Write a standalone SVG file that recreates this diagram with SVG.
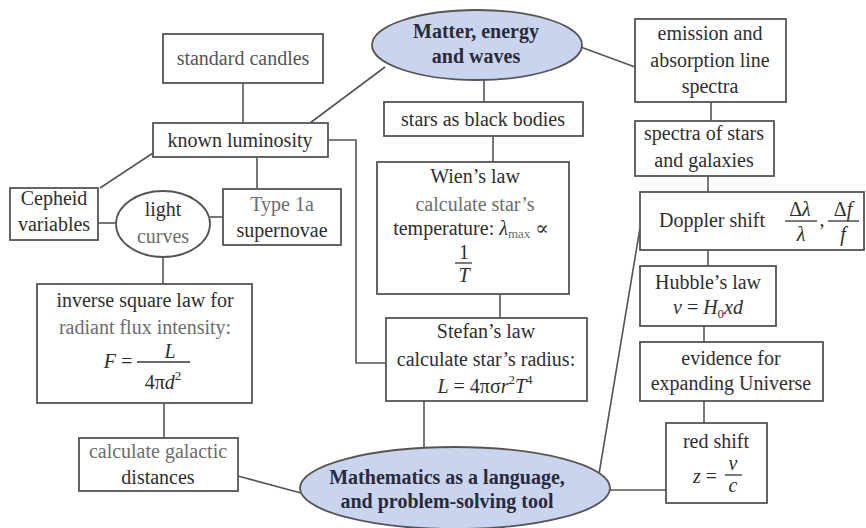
<svg xmlns="http://www.w3.org/2000/svg" width="866" height="528" viewBox="0 0 866 528" font-family="'Liberation Serif', 'Times New Roman', Tinos, 'DejaVu Serif', Times, serif">
<style>
.box{fill:#fff;stroke:#555;stroke-width:1.8}
.ell{fill:#c9d4ee;stroke:#555;stroke-width:1.8}
.ell2{fill:#fff;stroke:#555;stroke-width:1.8}
.ln{fill:none;stroke:#555;stroke-width:1.6}
text{font-size:20px;fill:#2e2e2e;text-anchor:middle}
.b{font-weight:bold;fill:#2a2a3a}
.g{fill:#6c6c6c}
.i{font-style:italic}
.s{font-size:13px}
.frac{stroke:#333;stroke-width:1.3}
</style>
<rect width="866" height="528" fill="#fff"/>
<g id="connectors">
<line class="ln" x1="243" y1="83" x2="243" y2="123"/>
<line class="ln" x1="385" y1="67" x2="310" y2="123"/>
<polyline class="ln" points="328,140 356,140 356,363 387,363"/>
<line class="ln" x1="257" y1="157" x2="257" y2="189"/>
<line class="ln" x1="153" y1="153" x2="100" y2="188"/>
<line class="ln" x1="98" y1="223" x2="117" y2="223"/>
<line class="ln" x1="210" y1="217" x2="223" y2="217"/>
<line class="ln" x1="163" y1="257" x2="163" y2="284"/>
<line class="ln" x1="164" y1="403" x2="164" y2="438"/>
<line class="ln" x1="238" y1="476" x2="301" y2="493"/>
<line class="ln" x1="484" y1="80" x2="484" y2="102"/>
<line class="ln" x1="493" y1="136" x2="493" y2="162"/>
<line class="ln" x1="500" y1="294" x2="500" y2="318"/>
<line class="ln" x1="424" y1="401" x2="424" y2="448"/>
<line class="ln" x1="578" y1="46" x2="635" y2="67"/>
<line class="ln" x1="711" y1="102" x2="711" y2="121"/>
<line class="ln" x1="708" y1="176" x2="708" y2="192"/>
<line class="ln" x1="708" y1="250" x2="708" y2="266"/>
<line class="ln" x1="704" y1="326" x2="704" y2="342"/>
<line class="ln" x1="704" y1="401" x2="704" y2="423"/>
<line class="ln" x1="608" y1="490" x2="666" y2="490"/>
<line class="ln" x1="599" y1="474" x2="640" y2="228"/>
</g>
<g id="matter">
<ellipse class="ell" cx="477" cy="45" rx="105" ry="35"/>
<text class="b" x="476" y="38">Matter, energy</text>
<text class="b" x="476" y="63">and waves</text>
</g>
<g id="standard-candles">
<rect class="box" x="163" y="34" width="160" height="49"/>
<text x="243" y="65" style="fill:#555">standard candles</text>
</g>
<g id="known-luminosity">
<rect class="box" x="153" y="123" width="175" height="34"/>
<text x="240" y="147">known luminosity</text>
</g>
<g id="cepheid">
<rect class="box" x="10" y="188" width="88" height="52"/>
<text x="54" y="205">Cepheid</text>
<text x="54" y="231">variables</text>
</g>
<g id="light-curves">
<ellipse class="ell2" cx="163" cy="224" rx="47" ry="33"/>
<text x="163" y="216">light</text>
<text class="g" x="163" y="243">curves</text>
</g>
<g id="type1a">
<rect class="box" x="223" y="189" width="118" height="56"/>
<text class="g" x="282" y="211">Type 1a</text>
<text x="282" y="237">supernovae</text>
</g>
<g id="inverse-square">
<rect class="box" x="37" y="284" width="215" height="119"/>
<text x="145" y="307">inverse square law for</text>
<text class="g" x="145" y="334">radiant flux intensity:</text>
<text x="118" y="368"><tspan class="i">F</tspan> =</text>
<line class="frac" x1="137" y1="362" x2="190" y2="362"/>
<text class="i" x="170" y="358">L</text>
<text x="163" y="389">4π<tspan class="i">d</tspan><tspan class="s" dy="-9">2</tspan></text>
</g>
<g id="galactic">
<rect class="box" x="79" y="438" width="159" height="53"/>
<text class="g" x="158" y="458">calculate galactic</text>
<text x="158" y="484">distances</text>
</g>
<g id="black-bodies">
<rect class="box" x="384" y="102" width="199" height="34"/>
<text x="483" y="126">stars as black bodies</text>
</g>
<g id="wien">
<rect class="box" x="377" y="162" width="192" height="132"/>
<text x="475" y="183">Wien’s law</text>
<text class="g" x="475" y="211">calculate star’s</text>
<text x="471" y="235">temperature: <tspan class="i">λ</tspan><tspan class="s g" dy="3">max</tspan><tspan dy="-3"> ∝</tspan></text>
<text x="464" y="259">1</text>
<line class="frac" x1="455" y1="263" x2="472" y2="263"/>
<text class="i" x="464" y="282">T</text>
</g>
<g id="stefan">
<rect class="box" x="386" y="318" width="201" height="83"/>
<text x="486" y="338">Stefan’s law</text>
<text x="486" y="366">calculate star’s radius:</text>
<text x="485" y="393"><tspan class="i">L</tspan> = 4πσ<tspan class="i">r</tspan><tspan class="s" dy="-9">2</tspan><tspan class="i" dy="9">T</tspan><tspan class="s" dy="-9">4</tspan></text>
</g>
<g id="mathematics">
<ellipse class="ell" cx="455" cy="488" rx="155" ry="41"/>
<text class="b" x="447" y="484">Mathematics as a language,</text>
<text class="b" x="447" y="508">and problem-solving tool</text>
</g>
<g id="emission">
<rect class="box" x="635" y="19" width="151" height="83"/>
<text x="710" y="40">emission and</text>
<text x="710" y="67">absorption line</text>
<text x="710" y="93">spectra</text>
</g>
<g id="spectra">
<rect class="box" x="635" y="121" width="139" height="55"/>
<text x="704" y="140">spectra of stars</text>
<text x="704" y="167">and galaxies</text>
</g>
<g id="doppler">
<rect class="box" x="640" y="192" width="224" height="58"/>
<text x="712" y="227">Doppler shift</text>
<text x="800" y="216">Δ<tspan class="i">λ</tspan></text>
<line class="frac" x1="785" y1="221" x2="817" y2="221"/>
<text class="i" x="801" y="241">λ</text>
<text x="822" y="226">,</text>
<text x="843" y="216">Δ<tspan class="i">f</tspan></text>
<line class="frac" x1="828" y1="221" x2="859" y2="221"/>
<text class="i" x="843" y="241">f</text>
</g>
<g id="hubble">
<rect class="box" x="640" y="266" width="136" height="60"/>
<text x="708" y="289">Hubble’s law</text>
<text x="708" y="314"><tspan class="i">v</tspan> = <tspan class="i">H</tspan><tspan class="s" dy="4">0</tspan><tspan class="i" dy="-4">xd</tspan></text>
</g>
<g id="evidence">
<rect class="box" x="640" y="342" width="183" height="59"/>
<text x="731" y="365">evidence for</text>
<text x="731" y="390">expanding Universe</text>
</g>
<g id="redshift">
<rect class="box" x="666" y="423" width="101" height="80"/>
<text x="716" y="448">red shift</text>
<text x="705" y="483"><tspan class="i">z</tspan> =</text>
<text class="i" x="733" y="470">v</text>
<line class="frac" x1="725" y1="475" x2="742" y2="475"/>
<text class="i" x="733" y="492">c</text>
</g>
</svg>
